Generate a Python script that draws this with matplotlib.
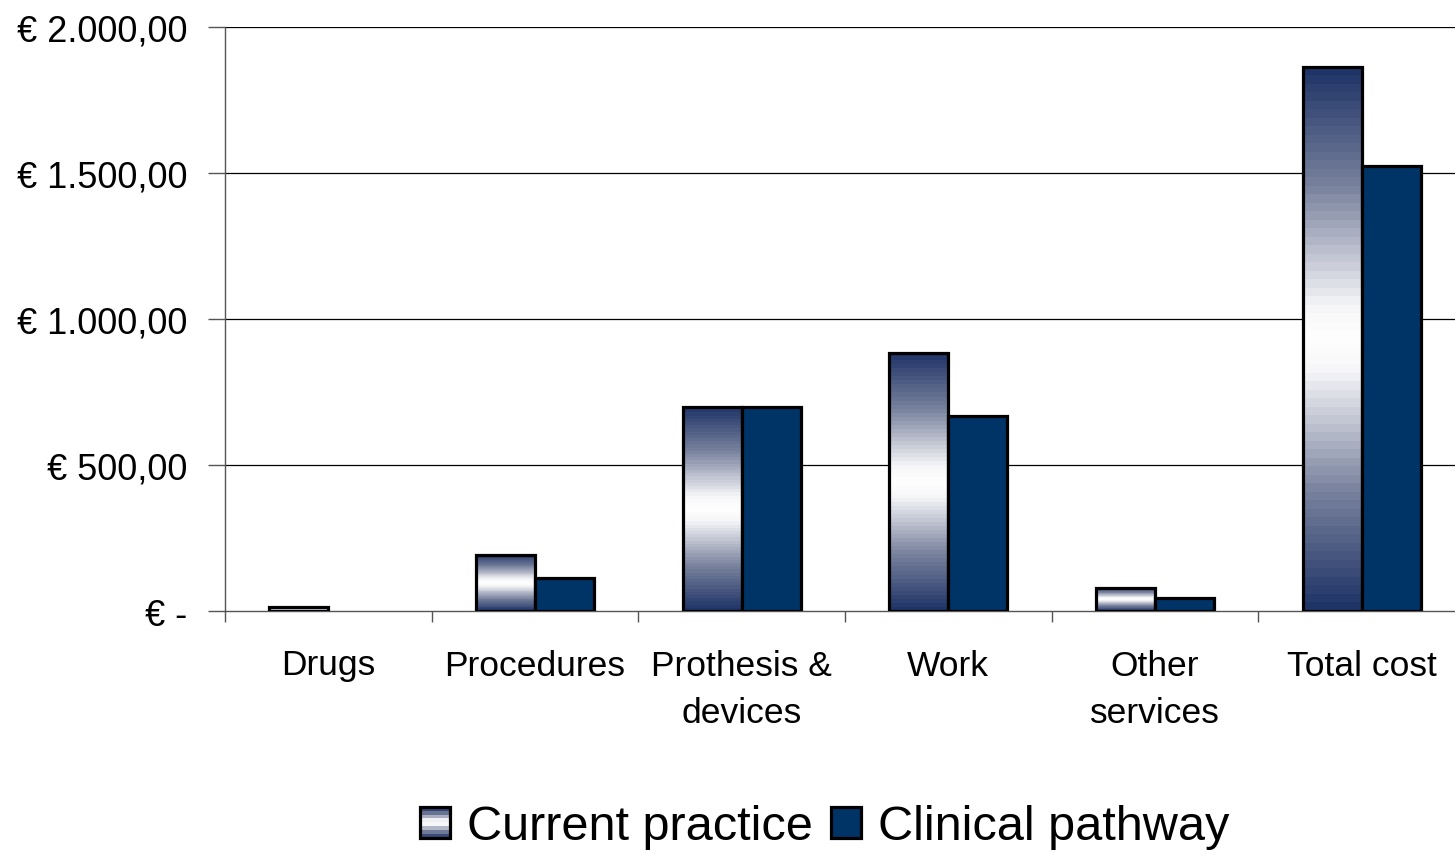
import numpy as np
import matplotlib
matplotlib.use("Agg")
import matplotlib.pyplot as plt
from matplotlib.colors import LinearSegmentedColormap
from matplotlib.patches import Rectangle
from matplotlib.legend_handler import HandlerBase

categories = ["Drugs", "Procedures", "Prothesis &\ndevices", "Work", "Other\nservices", "Total cost"]
current_practice = [12, 192, 700, 884, 79, 1863]
clinical_pathway = [0, 113, 700, 668, 45, 1524]
series_names = ["Current practice", "Clinical pathway"]
yticks = [0, 500, 1000, 1500, 2000]
ytick_labels = ["€ -", "€ 500,00", "€ 1.000,00", "€ 1.500,00", "€ 2.000,00"]

NAVY = "#003366"
grad_cmap = LinearSegmentedColormap.from_list(
    "grad", [(0.0, "#1f3466"), (0.22, "#7b84a0"), (0.44, "#f6f6f8"), (0.5, "#ffffff"),
             (0.56, "#f6f6f8"), (0.78, "#7b84a0"), (1.0, "#1f3466")], N=64)

plt.rcParams['font.family'] = ['Liberation Sans', 'DejaVu Sans']

fig = plt.figure(figsize=(14.55, 8.54), dpi=100)
ax = fig.add_axes([225/1455, 1-612/854, (1465-225)/1455, (612-28)/854])

x = np.arange(len(categories))
w = 0.285

grad = np.linspace(0, 1, 256).reshape(-1, 1)
bars_cur = ax.bar(x - w/2, current_practice, w, facecolor="none", edgecolor="black",
                  linewidth=2.3, zorder=4)
for b in bars_cur:
    bx, by = b.get_x(), b.get_y()
    bw, bh = b.get_width(), b.get_height()
    if bh <= 0:
        b.set_visible(False)
        continue
    im = ax.imshow(grad, cmap=grad_cmap, aspect="auto",
                   extent=[bx, bx + bw, by, by + bh], zorder=3, interpolation="nearest")
    im.set_clip_path(b)
bars_cli = ax.bar(x + w/2, clinical_pathway, w, facecolor=NAVY, edgecolor="black",
                  linewidth=2.3, zorder=4)
for b in bars_cli:
    if b.get_height() <= 0:
        b.set_visible(False)
ax.set_xlim(-0.5, len(categories) - 0.5)
ax.set_ylim(0, 2000)

for yv in yticks[1:]:
    ax.axhline(yv, color="black", linewidth=0.9, zorder=1)

ax.set_yticks(yticks)
ax.set_yticklabels(ytick_labels, fontsize=26)
ax.tick_params(axis="y", length=12, width=1, pad=15, color="#555555")

ax.set_xticks(x)
ax.set_xticklabels(categories, fontsize=25.5, linespacing=1.55)
ax.tick_params(axis="x", which="major", length=0, pad=27)
ax.set_xticks(np.arange(len(categories) + 1) - 0.5, minor=True)
ax.tick_params(axis="x", which="minor", length=8, width=1, color="#555555")

for s in ["top", "right"]:
    ax.spines[s].set_visible(False)
ax.spines["left"].set_color("#555555")
ax.spines["bottom"].set_color("#555555")
ax.spines["left"].set_linewidth(1)
ax.spines["bottom"].set_linewidth(1)


class GradHandler(HandlerBase):
    def create_artists(self, legend, orig_handle, xdescent, ydescent, width, height, fontsize, trans):
        arts = []
        n = 8
        for i in range(n):
            c = grad_cmap((i + 0.5) / n)
            r = Rectangle((-xdescent, -ydescent + height * i / n), width, height / n,
                          facecolor=c, edgecolor="none", transform=trans)
            arts.append(r)
        arts.append(Rectangle((-xdescent, -ydescent), width, height, facecolor="none",
                              edgecolor="black", linewidth=2.3, transform=trans))
        return arts


h1 = Rectangle((0, 0), 1, 1, facecolor="white", edgecolor="black")
h2 = Rectangle((0, 0), 1, 1, facecolor=NAVY, edgecolor="black", linewidth=2.3)
fig.legend([h1, h2], series_names, loc="center", bbox_to_anchor=(825/1455, 1-828/854),
           ncol=2, frameon=False, fontsize=35, handlelength=0.62, handleheight=0.62,
           handletextpad=0.35, columnspacing=0.37, handler_map={h1: GradHandler()})

fig.savefig("out.png", dpi=100)
